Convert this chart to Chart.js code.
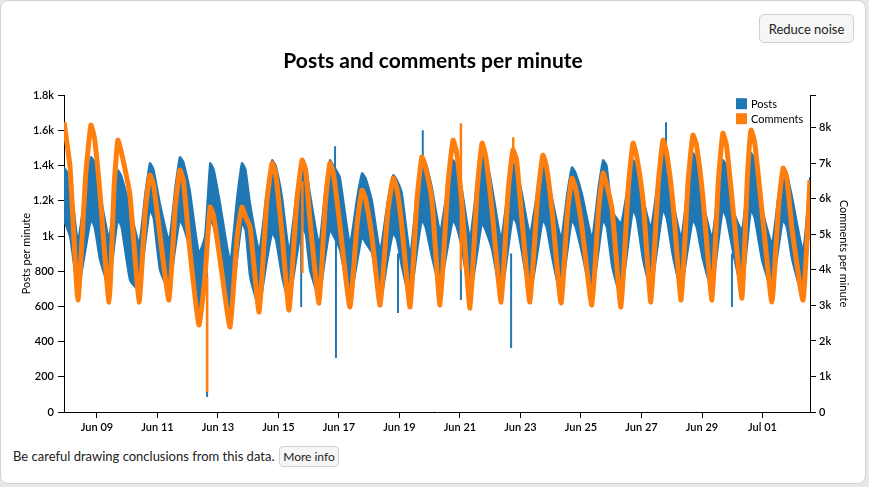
<!DOCTYPE html>
<html>
<head>
<meta charset="utf-8">
<script src="https://cdn.jsdelivr.net/npm/chart.js@4.4.0/dist/chart.umd.min.js"></script>
<style>
    body { margin: 0; background: #e8e8e8; font-family: Lato, sans-serif; }
    #card { position: absolute; left: 0; top: 0; width: 864px; height: 482px; background: #fff; border: 1px solid #d2d2d2; border-radius: 8px; }
    #chart { position: absolute; left: 0; top: 0; }
    .btn { position: absolute; font-family: Lato, sans-serif; background: #f6f6f6; border: 1px solid #d0d0d0; border-radius: 5px; color: #222; padding: 0; }
    #reduce { left: 759px; top: 14px; width: 95px; height: 29px; font-size: 13px; }
    #more { left: 279px; top: 446px; width: 60px; height: 21px; font-size: 12px; border-radius: 4px; }
    #note { position: absolute; left: 13px; top: 448px; font-size: 13px; color: #222; }
</style>
</head>
<body>
<div id="card"></div>
<canvas id="chart" width="866" height="440"></canvas>
<button class="btn" id="reduce">Reduce noise</button>
<div id="note">Be careful drawing conclusions from this data.</div>
<button class="btn" id="more">More info</button>
<script>
// time is in days after Jun 08 00:00
const xStart = -0.09;
const xEnd = 24.57;
const xTickDays = [1, 3, 5, 7, 9, 11, 13, 15, 17, 19, 21, 23];
const xTickLabels = ['Jun 09', 'Jun 11', 'Jun 13', 'Jun 15', 'Jun 17', 'Jun 19', 'Jun 21', 'Jun 23', 'Jun 25', 'Jun 27', 'Jun 29', 'Jul 01'];

// readings per day: trough, rise, peak, after peak, afternoon
const keyDays = [
    -0.09, 0.11,
    0.37, 0.63, 0.80, 0.92, 1.10,
    1.40, 1.57, 1.69, 1.81, 2.09,
    2.39, 2.60, 2.75, 2.87, 3.08,
    3.38, 3.59, 3.74, 3.86, 4.07,
    4.37, 4.57, 4.74, 4.86, 5.07,
    5.40, 5.63, 5.79, 5.91, 6.06,
    6.36, 6.61, 6.79, 6.91, 7.12,
    7.35, 7.60, 7.78, 7.90, 8.04,
    8.34, 8.55, 8.70, 8.82, 9.03,
    9.36, 9.60, 9.76, 9.88, 10.09,
    10.36, 10.61, 10.79, 10.91, 11.08,
    11.35, 11.58, 11.74, 11.86, 12.07,
    12.34, 12.60, 12.77, 12.89, 13.07,
    13.33, 13.57, 13.73, 13.85, 14.06,
    14.36, 14.59, 14.75, 14.87, 15.05,
    15.31, 15.57, 15.74, 15.86, 16.04,
    16.34, 16.55, 16.70, 16.82, 17.03,
    17.36, 17.58, 17.73, 17.85, 18.03,
    18.32, 18.56, 18.72, 18.84, 19.05,
    19.31, 19.55, 19.71, 19.83, 20.04,
    20.31, 20.54, 20.70, 20.82, 21.03,
    21.33, 21.54, 21.69, 21.81, 22.03,
    22.32, 22.50, 22.62, 22.74, 22.98,
    23.31, 23.53, 23.68, 23.80, 23.98,
    24.34, 24.57
];
const postsHigh = [
    1391, 1334,
    977, 1280, 1448, 1420, 1243,
    994, 1240, 1374, 1340, 1164,
    960, 1250, 1414, 1380, 1187,
    977, 1280, 1448, 1420, 1261,
    903, 1000, 1414, 1380, 1187,
    863, 1220, 1414, 1380, 1187,
    920, 1250, 1431, 1400, 1221,
    920, 1250, 1431, 1400, 1243,
    960, 1270, 1431, 1400, 1334,
    960, 1220, 1357, 1330, 1204,
    920, 1200, 1346, 1320, 1243,
    903, 1260, 1448, 1420, 1278,
    1033, 1290, 1431, 1400, 1261,
    994, 1320, 1505, 1470, 1278,
    994, 1270, 1414, 1380, 1243,
    1016, 1270, 1414, 1380, 1221,
    994, 1250, 1391, 1360, 1243,
    994, 1280, 1431, 1400, 1147,
    1073, 1300, 1431, 1400, 1221,
    1050, 1330, 1488, 1450, 1204,
    994, 1300, 1471, 1440, 1204,
    994, 1280, 1431, 1400, 1147,
    1033, 1310, 1471, 1440, 1164,
    960, 1240, 1391, 1360, 1221,
    920, 1334
];
const postsLow = [
    1090, 994,
    693, 930, 1090, 1050, 863,
    710, 940, 1090, 1050, 749,
    693, 960, 1147, 1100, 806,
    693, 930, 1090, 1050, 920,
    579, 780, 1090, 1050, 846,
    539, 860, 1073, 1030, 767,
    596, 850, 1016, 980, 767,
    619, 880, 1050, 1010, 806,
    653, 880, 1033, 1000, 920,
    636, 850, 994, 960, 903,
    619, 860, 1016, 980, 823,
    636, 910, 1090, 1050, 880,
    710, 940, 1090, 1050, 920,
    653, 900, 1073, 1030, 920,
    653, 920, 1107, 1070, 903,
    653, 910, 1090, 1050, 880,
    653, 910, 1090, 1050, 903,
    653, 910, 1090, 1050, 823,
    653, 950, 1147, 1100, 863,
    693, 960, 1147, 1100, 880,
    693, 930, 1090, 1050, 863,
    693, 960, 1147, 1100, 903,
    693, 960, 1147, 1100, 863,
    693, 930, 1090, 1050, 863,
    653, 1107
];
const comments = [
    8161, 6894,
    3152, 6700, 8076, 7700, 6163,
    3095, 6400, 7654, 7300, 6106,
    3095, 5700, 6669, 6400, 5000,
    3152, 5800, 6810, 6500, 4558,
    2448, 3800, 5769, 5500, 4277,
    2392, 4900, 5769, 5500, 5206,
    2814, 5900, 7007, 6700, 4981,
    2870, 5900, 7091, 6800, 5403,
    3067, 5900, 7007, 6700, 5262,
    2955, 5300, 6247, 6000, 4925,
    3011, 5600, 6585, 6300, 5206,
    2955, 6000, 7176, 6900, 5966,
    3011, 6400, 7654, 7300, 5800,
    2927, 6300, 7570, 7200, 5684,
    3095, 6200, 7373, 7100, 5403,
    3095, 6100, 7232, 6900, 5684,
    3067, 5600, 6585, 6300, 5206,
    3011, 5700, 6725, 6400, 5684,
    2955, 6300, 7570, 7200, 5966,
    3095, 6400, 7654, 7300, 5881,
    3152, 6500, 7795, 7500, 6050,
    3152, 6500, 7851, 7500, 5684,
    3208, 6600, 7935, 7600, 5684,
    3095, 5800, 6866, 6600, 5122,
    3152, 6528
];

// single-minute outliers [day, from, to]
const postSpikes = [
    [4.64, 800, 85], [7.75, 1000, 596], [8.87, 1300, 1510], [8.90, 1000, 307], [10.95, 900, 562],
    [11.77, 1400, 1601], [13.03, 900, 636], [14.69, 900, 363], [19.81, 1400, 1647], [21.99, 900, 596]
];
const commentSpikes = [[4.64, 3800, 563], [7.79, 6500, 3911], [13.03, 3996, 8133], [14.76, 7000, 7739]];

const postsColor = '#1f77b4';
const commentsColor = '#ff7f0e';

function points(values) {
    return keyDays.map((d, i) => ({ x: d, y: values[i] }));
}

function spikePoints(spikes) {
    let pts = [];
    for (let s of spikes) {
        pts.push({ x: s[0], y: s[1] }, { x: s[0], y: s[2] }, { x: s[0], y: null });
    }
    return pts;
}

function kFormat(v) {
    if (v === 0) return '0';
    return v >= 1000 ? (v / 1000) + 'k' : '' + v;
}

const tickFont = { family: 'Lato', size: 11, weight: '600' };
const titleFont = { family: 'Lato', size: 11 };

// legend drawn inside the plot, top right
const cornerLegend = {
    id: 'cornerLegend',
    afterDraw(chart) {
        const ctx = chart.ctx;
        const area = chart.chartArea;
        const items = chart.data.datasets.filter(d => d.inLegend).sort((a, b) => a.legendRank - b.legendRank);
        ctx.save();
        ctx.font = '11px Lato';
        ctx.textBaseline = 'middle';
        items.forEach((d, i) => {
            let y = area.top + 3 + i * 15;
            ctx.fillStyle = d.borderColor;
            ctx.fillRect(area.right - 74, y, 11, 11);
            ctx.fillStyle = '#000';
            ctx.fillText(d.label, area.right - 59, y + 6);
        });
        ctx.restore();
    }
};

const lineStyle = { pointRadius: 0, tension: 0.15 };

new Chart(document.getElementById('chart'), {
    type: 'line',
    data: {
        datasets: [
            {
                ...lineStyle,
                label: 'Comment spikes',
                data: spikePoints(commentSpikes),
                yAxisID: 'y2',
                borderColor: commentsColor,
                borderWidth: 2.5,
                spanGaps: false,
                fill: false
            },
            {
                ...lineStyle,
                label: 'Comments', inLegend: true, legendRank: 1,
                data: points(comments),
                yAxisID: 'y2',
                borderColor: commentsColor,
                borderWidth: 5,
                fill: false
            },
            {
                ...lineStyle,
                label: 'Post spikes',
                data: spikePoints(postSpikes),
                yAxisID: 'y',
                borderColor: postsColor,
                borderWidth: 2,
                spanGaps: false,
                fill: false
            },
            {
                ...lineStyle,
                label: 'Posts', inLegend: true, legendRank: 0,
                data: points(postsHigh),
                yAxisID: 'y',
                borderColor: postsColor,
                borderWidth: 2,
                fill: false
            },
            {
                ...lineStyle,
                label: 'Posts low',
                data: points(postsLow),
                yAxisID: 'y',
                borderColor: postsColor,
                backgroundColor: postsColor,
                borderWidth: 2,
                fill: '-1'
            }
        ]
    },
    options: {
        responsive: false,
        animation: false,
        devicePixelRatio: 1,
        layout: { padding: { top: 40, left: 0, right: 0, bottom: 0 } },
        plugins: {
            legend: { display: false },
            tooltip: { enabled: false },
            title: {
                display: true,
                text: 'Posts and comments per minute',
                color: '#000',
                font: { family: 'Lato', size: 21, weight: 'bold' },
                padding: { top: 9, bottom: 21 }
            }
        },
        scales: {
            x: {
                type: 'linear',
                min: xStart,
                max: xEnd,
                afterBuildTicks: s => { s.ticks = xTickDays.map(v => ({ value: v })); },
                afterFit: s => { s.height = 28; },
                ticks: {
                    callback: (v, i) => xTickLabels[i],
                    autoSkip: false, maxRotation: 0,
                    color: '#000', font: tickFont, padding: 3
                },
                grid: { drawOnChartArea: false, tickLength: 6, color: '#000' },
                border: { color: '#000' }
            },
            y: {
                position: 'left',
                min: 0,
                max: 1800,
                afterBuildTicks: s => { s.ticks = [0, 200, 400, 600, 800, 1000, 1200, 1400, 1600, 1800].map(v => ({ value: v })); },
                afterFit: s => { s.width = 64; },
                ticks: { callback: v => kFormat(v), autoSkip: false, color: '#000', font: tickFont, padding: 4 },
                grid: { drawOnChartArea: false, tickLength: 6, color: '#000' },
                border: { color: '#000' },
                title: { display: true, text: 'Posts per minute', color: '#000', font: titleFont, padding: { top: 20, bottom: 0 } }
            },
            y2: {
                position: 'right',
                min: 0,
                max: 8920,
                afterBuildTicks: s => { s.ticks = [0, 1000, 2000, 3000, 4000, 5000, 6000, 7000, 8000, 8920].map(v => ({ value: v })); },
                afterFit: s => { s.width = 56; },
                ticks: { callback: v => (v % 1000 === 0 ? kFormat(v) : ''), autoSkip: false, color: '#000', font: tickFont, padding: 3 },
                grid: { drawOnChartArea: false, tickLength: 6, color: '#000' },
                border: { color: '#000' },
                title: { display: true, text: 'Comments per minute', color: '#000', font: titleFont, padding: { top: 16, bottom: 0 } }
            }
        }
    },
    plugins: [cornerLegend]
});
</script>
</body>
</html>
